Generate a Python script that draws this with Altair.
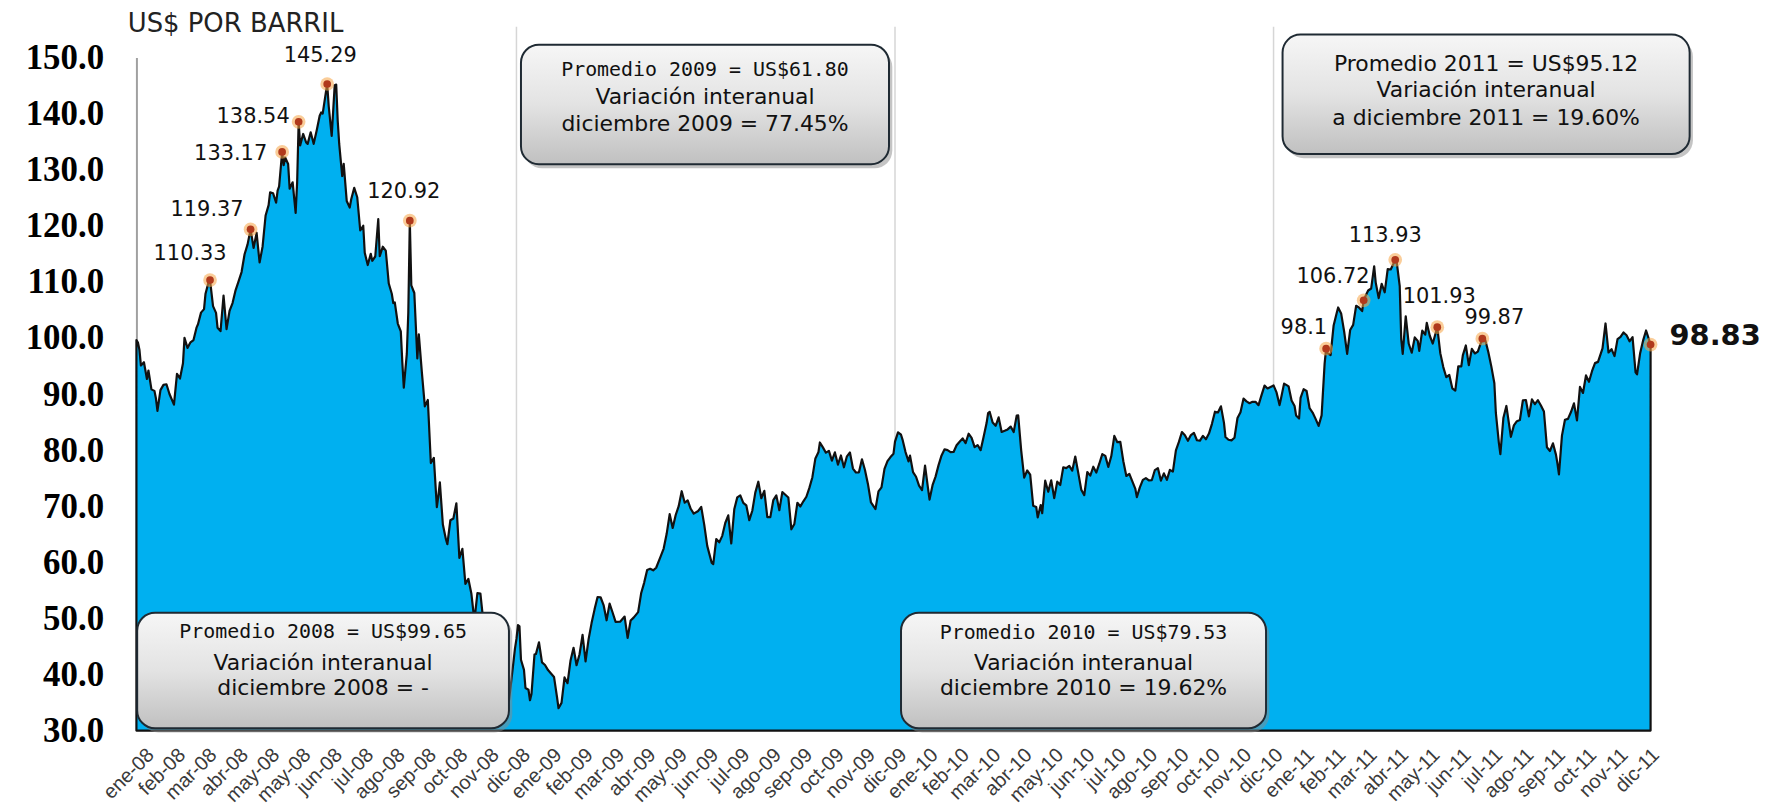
import altair as alt
import numpy as np
import pandas as pd

# ---------------- data (US$ por barril) ----------------
S2008 = [("01-02",99.62),("01-03",99.18),("01-04",97.91),("01-07",95.09),("01-09",95.67),("01-11",92.69),("01-14",94.20),("01-16",90.84),("01-18",90.57),("01-22",89.21),("01-23",86.99),("01-25",90.71),("01-29",91.64),("01-31",91.75),("02-04",90.02),("02-07",88.11),("02-11",93.59),("02-13",92.78),("02-15",95.50),("02-19",100.01),("02-21",98.23),("02-25",99.23),("02-27",99.64),("02-29",101.84),("03-03",102.45),("03-05",104.52),("03-07",105.15),("03-10",107.90),("03-12",109.92),("03-13",110.33),("03-17",105.68),("03-19",104.48),("03-20",101.84),("03-25",101.22),("03-27",107.58),("03-31",101.58),("04-02",104.83),("04-04",106.23),("04-08",108.50),("04-10",110.11),("04-14",111.76),("04-16",114.93),("04-18",116.69),("04-22",119.37),("04-24",116.06),("04-28",118.75),("04-30",113.46),("05-02",116.32),("05-06",121.84),("05-08",123.69),("05-09",125.96),("05-13",125.80),("05-15",124.12),("05-16",126.29),("05-19",127.05),("05-21",133.17),("05-22",130.81),("05-23",132.19),("05-28",131.03),("05-29",126.62),("06-02",127.76),("06-04",122.30),("06-05",127.79),("06-06",138.54),("06-09",134.35),("06-11",136.38),("06-13",134.86),("06-16",134.61),("06-18",136.68),("06-20",134.62),("06-24",137.00),("06-26",139.64),("06-27",140.21),("06-30",140.00),("07-02",143.57),("07-03",145.29),("07-07",141.37),("07-09",136.05),("07-11",145.08),("07-14",145.18),("07-15",138.74),("07-16",134.60),("07-18",128.88),("07-21",131.04),("07-23",124.44),("07-25",123.26),("07-28",124.73),("07-30",126.77),("08-01",125.10),("08-05",119.17),("08-07",120.02),("08-08",115.20),("08-12",113.01),("08-14",115.01),("08-15",113.77),("08-19",114.53),("08-21",121.18),("08-22",114.59),("08-26",116.27),("08-28",115.59),("09-02",109.71),("09-04",107.89),("09-05",106.23),("09-08",106.34),("09-10",102.58),("09-12",101.18),("09-15",95.71),("09-16",91.15),("09-18",97.16),("09-19",104.55),("09-22",120.92),("09-23",109.37),("09-25",108.02),("09-29",96.37),("09-30",100.64),("10-02",93.97),("10-06",87.81),("10-08",88.95),("10-10",77.70),("10-14",78.63),("10-16",69.85),("10-17",71.85),("10-20",74.25),("10-22",66.75),("10-24",64.15),("10-27",63.22),("10-29",67.50),("10-31",67.81),("11-04",70.53),("11-06",60.77),("11-10",62.41),("11-12",56.16),("11-14",57.04),("11-18",54.39),("11-20",49.62),("11-24",54.50),("11-26",54.44),("12-01",49.28),("12-03",46.79),("12-05",40.81),("12-08",43.71),("12-10",43.52),("12-12",46.28),("12-15",44.51),("12-17",40.06),("12-19",33.87),("12-22",39.91),("12-24",35.35),("12-29",39.89),("12-31",44.60)]
S2009 = [("01-02",46.34),("01-05",48.81),("01-06",48.58),("01-07",42.63),("01-09",40.83),("01-12",37.59),("01-14",37.28),("01-15",35.40),("01-16",36.51),("01-21",43.55),("01-22",43.67),("01-26",45.73),("01-28",42.16),("01-30",41.68),("02-03",40.78),("02-05",40.17),("02-09",39.56),("02-11",35.94),("02-12",33.98),("02-17",34.93),("02-19",39.48),("02-23",38.44),("02-25",42.50),("02-27",44.76),("03-03",41.65),("03-05",43.61),("03-09",47.07),("03-11",42.33),("03-13",46.25),("03-17",49.16),("03-19",51.61),("03-23",53.80),("03-25",53.77),("03-27",52.38),("03-31",49.66),("04-02",52.64),("04-06",51.05),("04-08",49.38),("04-14",49.41),("04-17",50.33),("04-21",46.51),("04-23",49.62),("04-27",50.14),("04-30",51.12),("05-04",54.47),("05-06",56.34),("05-08",58.63),("05-12",58.85),("05-14",58.57),("05-18",59.03),("05-21",61.05),("05-26",62.45),("05-28",65.08),("06-01",68.58),("06-03",66.12),("06-05",68.44),("06-09",70.01),("06-11",72.68),("06-15",70.62),("06-17",71.03),("06-19",69.55),("06-23",68.67),("06-26",69.16),("06-30",69.89),("07-02",66.73),("07-07",62.93),("07-10",59.89),("07-13",59.69),("07-15",64.14),("07-17",63.56),("07-21",64.72),("07-23",67.01),("07-27",68.38),("07-29",63.35),("07-31",69.45),("08-04",71.58),("08-06",71.94),("08-10",70.60),("08-12",70.16),("08-14",67.51),("08-18",69.19),("08-20",72.42),("08-24",74.37),("08-26",71.43),("08-28",72.74),("09-01",68.05),("09-03",68.05),("09-08",71.10),("09-10",71.94),("09-14",69.29),("09-16",72.51),("09-18",72.04),("09-22",71.55),("09-24",65.89),("09-28",66.84),("09-30",70.61),("10-02",69.95),("10-06",70.88),("10-08",71.69),("10-12",73.27),("10-14",75.18),("10-16",78.53),("10-20",79.61),("10-21",81.37),("10-23",80.50),("10-27",79.55),("10-29",79.87),("11-02",78.13),("11-04",79.60),("11-06",77.43),("11-10",79.05),("11-12",76.94),("11-16",78.90),("11-18",79.58),("11-20",76.72),("11-24",76.02),("11-27",76.05),("12-01",78.37),("12-03",76.46),("12-07",73.93),("12-09",70.67),("12-11",69.87),("12-14",69.51),("12-16",72.66),("12-18",73.36),("12-22",76.67),("12-24",78.05),("12-29",78.77),("12-31",79.36)]
S2010 = [("01-04",81.51),("01-06",83.18),("01-08",82.75),("01-11",81.89),("01-13",79.65),("01-15",78.00),("01-19",79.02),("01-21",76.08),("01-25",75.26),("01-27",73.67),("01-29",72.89),("02-02",77.23),("02-04",73.14),("02-05",71.19),("02-09",73.75),("02-11",75.28),("02-16",77.33),("02-18",79.06),("02-22",80.16),("02-24",80.00),("02-26",79.66),("03-02",79.68),("03-04",80.87),("03-08",81.50),("03-10",82.09),("03-12",81.24),("03-16",82.93),("03-18",82.20),("03-22",80.53),("03-24",80.91),("03-26",80.00),("03-30",82.37),("04-01",84.87),("04-05",86.62),("04-06",86.84),("04-08",84.92),("04-12",84.34),("04-14",85.84),("04-16",83.24),("04-20",83.45),("04-22",83.70),("04-26",84.20),("04-28",83.22),("04-30",86.15),("05-03",86.19),("05-05",79.97),("05-07",75.11),("05-11",76.37),("05-13",75.65),("05-17",70.08),("05-19",69.87),("05-20",68.01),("05-24",70.21),("05-25",68.75),("05-27",74.55),("06-01",72.58),("06-03",74.61),("06-07",71.44),("06-09",74.38),("06-11",73.78),("06-15",76.94),("06-17",76.79),("06-21",77.18),("06-23",76.35),("06-25",78.86),("06-29",75.94),("07-01",72.95),("07-06",71.98),("07-08",76.09),("07-12",75.45),("07-14",77.04),("07-16",76.01),("07-20",77.58),("07-22",79.30),("07-26",78.98),("07-28",77.00),("07-30",78.95),("08-03",82.55),("08-05",81.42),("08-09",81.48),("08-11",78.02),("08-13",75.39),("08-17",75.77),("08-19",74.43),("08-23",73.10),("08-24",71.63),("08-26",73.36),("08-30",74.70),("09-01",75.02),("09-03",74.60),("09-08",74.67),("09-10",76.45),("09-14",76.80),("09-16",74.57),("09-20",75.86),("09-22",74.71),("09-24",76.49),("09-28",76.18),("09-30",79.97),("10-04",81.47),("10-06",83.23),("10-08",82.66),("10-12",81.67),("10-14",82.69),("10-18",83.08),("10-20",81.77),("10-22",81.69),("10-26",82.55),("10-28",81.94),("11-01",82.95),("11-03",84.69),("11-05",86.85),("11-09",86.72),("11-11",87.81),("11-15",84.86),("11-16",82.34),("11-18",81.85),("11-22",81.74),("11-24",82.21),("11-29",85.73),("12-01",86.75),("12-03",89.19),("12-07",88.69),("12-09",88.37),("12-13",88.61),("12-15",88.62),("12-17",88.02),("12-21",89.82),("12-23",91.51),("12-28",91.00),("12-31",91.38)]
S2011 = [("01-03",91.55),("01-05",90.30),("01-07",88.03),("01-10",89.25),("01-12",91.86),("01-14",91.54),("01-18",91.38),("01-20",88.86),("01-24",87.87),("01-25",86.19),("01-27",85.64),("01-28",89.34),("02-01",90.86),("02-03",90.54),("02-07",87.48),("02-09",86.71),("02-11",85.58),("02-15",84.32),("02-17",86.20),("02-22",95.42),("02-23",98.10),("02-24",97.28),("02-28",96.97),("03-02",102.23),("03-04",104.42),("03-07",105.44),("03-09",104.38),("03-11",101.16),("03-15",97.18),("03-17",101.42),("03-21",102.33),("03-23",105.75),("03-25",105.40),("03-29",104.79),("03-30",106.72),("04-01",107.94),("04-04",108.47),("04-06",108.83),("04-08",112.79),("04-11",109.92),("04-13",107.11),("04-15",109.66),("04-19",108.15),("04-21",112.29),("04-26",112.21),("04-29",113.93),("05-02",113.52),("05-04",109.24),("05-05",99.80),("05-06",97.18),("05-10",103.88),("05-12",98.97),("05-16",97.37),("05-18",100.10),("05-20",99.49),("05-23",97.70),("05-25",101.32),("05-27",100.59),("05-31",102.70),("06-02",100.40),("06-06",99.01),("06-09",101.93),("06-13",97.30),("06-15",94.81),("06-17",93.01),("06-21",93.40),("06-23",91.02),("06-27",90.61),("06-29",94.96),("07-01",94.94),("07-05",96.89),("07-07",98.67),("07-11",95.15),("07-13",98.05),("07-15",97.24),("07-19",97.58),("07-22",99.87),("07-26",99.59),("07-28",97.44),("08-01",94.89),("08-03",91.93),("08-04",86.63),("08-08",81.31),("08-09",79.30),("08-11",85.72),("08-15",87.88),("08-18",82.38),("08-22",84.42),("08-24",85.16),("08-26",85.37),("08-30",88.90),("09-01",88.93),("09-06",86.02),("09-08",89.05),("09-12",88.19),("09-14",88.91),("09-16",87.96),("09-20",86.89),("09-22",80.51),("09-26",79.85),("09-28",81.21),("09-30",79.20),("10-03",77.61),("10-04",75.67),("10-06",82.59),("10-10",85.41),("10-12",85.57),("10-14",86.80),("10-18",88.34),("10-20",85.30),("10-24",91.27),("10-26",90.20),("10-28",93.32),("11-01",92.19),("11-03",94.07),("11-07",95.52),("11-09",95.74),("11-14",98.14),("11-16",102.59),("11-18",97.41),("11-22",98.01),("11-25",96.77),("11-29",99.79),("12-01",100.20),("12-05",100.99),("12-07",100.49),("12-09",99.41),("12-13",100.14),("12-15",93.87),("12-16",93.53),("12-20",97.22),("12-22",99.53),("12-27",101.34),("12-29",99.65),("12-30",98.83)]

# NYMEX holidays (x axis counts trading days)
HOLIDAYS = ["2008-01-01","2008-01-21","2008-02-18","2008-03-21","2008-05-26","2008-07-04","2008-09-01","2008-11-27","2008-12-25",
            "2009-01-01","2009-01-19","2009-02-16","2009-04-10","2009-05-25","2009-07-03","2009-09-07","2009-11-26","2009-12-25",
            "2010-01-01","2010-01-18","2010-02-15","2010-04-02","2010-05-31","2010-07-05","2010-09-06","2010-11-25","2010-12-24",
            "2011-01-17","2011-02-21","2011-04-22","2011-05-30","2011-07-04","2011-09-05","2011-11-24","2011-12-26"]

X_LABELS = ["ene-08","feb-08","mar-08","abr-08","may-08","may-08","jun-08","jul-08","ago-08","sep-08","oct-08","nov-08","dic-08",
            "ene-09","feb-09","mar-09","abr-09","may-09","jun-09","jul-09","ago-09","sep-09","oct-09","nov-09","dic-09",
            "ene-10","feb-10","mar-10","abr-10","may-10","jun-10","jul-10","ago-10","sep-10","oct-10","nov-10","dic-10",
            "ene-11","feb-11","mar-11","abr-11","may-11","jun-11","jul-11","ago-11","sep-11","oct-11","nov-11","dic-11"]
Y_TICKS = [30, 40, 50, 60, 70, 80, 90, 100, 110, 120, 130, 140, 150]
Y_TITLE = "US$ POR BARRIL"
YEAR_STARTS = ["2009-01-01", "2010-01-01", "2011-01-01"]

ANN_DATES = ["2008-03-13","2008-04-22","2008-05-21","2008-06-06","2008-07-03","2008-09-22",
             "2011-02-23","2011-03-30","2011-04-29","2011-06-09","2011-07-22","2011-12-30"]
ANN_VALUES = [110.33, 119.37, 133.17, 138.54, 145.29, 120.92, 98.10, 106.72, 113.93, 101.93, 99.87, 98.83]
ANN_TEXT = ["110.33", "119.37", "133.17", "138.54", "145.29", "120.92", "98.1", "106.72", "113.93", "101.93", "99.87", "98.83"]

BOX_YEARS = ["2008", "2009", "2010", "2011"]
BOX_LINE1 = ["Promedio 2008 = US$99.65", "Promedio 2009 = US$61.80", "Promedio 2010 = US$79.53", "Promedio 2011 = US$95.12"]
BOX_LINE2 = ["Variación interanual"] * 4
BOX_LINE3 = ["diciembre 2008 = -", "diciembre 2009 = 77.45%", "diciembre 2010 = 19.62%", "a diciembre 2011 = 19.60%"]

# ---------------- layout (annotation placement, in axis units) ----------------
BOX_X1 = [0.5, 256, 509, 763]
BOX_X2 = [248, 501, 752, 1034]
BOX_YTOP = [51.0, 152.3, 51.0, 154.1]
BOX_YBOT = [30.4, 131.0, 30.4, 132.8]
BOX_L1_Y = [47.6, 147.7, 47.4, 148.8]
BOX_L2_Y = [42.0, 142.9, 42.1, 144.3]
BOX_L3_Y = [37.6, 138.1, 37.6, 139.3]
ANN_DX = [-20, -7, -15, -9, -7, -6, 1, 6, -10, 2, 12, 19]
ANN_DY = [-26, -19, 2, -5, -28, -29, -21, -23, -24, -30, -21, -9]
ANN_ALIGN = ["center", "right", "right", "right", "center", "center", "right", "right", "center", "center", "center", "left"]
TITLE_POS = (66, 155.9)

# ---------------- build tables ----------------
def trade_idx(dates):
    d = pd.to_datetime(pd.Series(dates)).values.astype("datetime64[D]")
    return np.busday_count(np.datetime64("2008-01-02"), d, holidays=HOLIDAYS)

rows = []
for yr, s in (("2008", S2008), ("2009", S2009), ("2010", S2010), ("2011", S2011)):
    for md, v in s:
        rows.append((f"{yr}-{md}", v))
price_df = pd.DataFrame(rows, columns=["date", "price"])
price_df["idx"] = trade_idx(price_df["date"])
LAST_IDX = int(price_df["idx"].max())

years_df = pd.DataFrame({"idx": trade_idx(YEAR_STARTS), "top": 155.5, "bot": 30.0})

ann_df = pd.DataFrame({"date": ANN_DATES, "price": ANN_VALUES, "label": ANN_TEXT})
ann_df["idx"] = trade_idx(ann_df["date"])

box_df = pd.DataFrame({"year": BOX_YEARS, "l1": BOX_LINE1, "l2": BOX_LINE2, "l3": BOX_LINE3,
                       "bx1": BOX_X1, "bx2": BOX_X2, "byt": BOX_YTOP, "byb": BOX_YBOT,
                       "ty1": BOX_L1_Y, "ty2": BOX_L2_Y, "ty3": BOX_L3_Y})
box_df["xc"] = (box_df["bx1"] + box_df["bx2"]) / 2
box_df["sx1"] = box_df["bx1"] + 2.2
box_df["sx2"] = box_df["bx2"] + 2.2
box_df["syt"] = box_df["byt"] - 0.75
box_df["syb"] = box_df["byb"] - 0.75

title_df = pd.DataFrame({"t": [Y_TITLE], "x": [TITLE_POS[0]], "y": [TITLE_POS[1]]})

# ---------------- scales / axes ----------------
XSCALE = alt.Scale(domain=[0, LAST_IDX], nice=False, zero=False)
YSCALE = alt.Scale(domain=[30, 150], nice=False, zero=False)
YAXIS = alt.Axis(values=Y_TICKS, format=".1f", labelFont="Liberation Serif", labelFontWeight="bold",
                 labelFontSize=35, labelColor="#000000", labelPadding=33, ticks=False, tickSize=0,
                 grid=False, domainColor="#a0a0a0", domainWidth=2, labelOverlap=False, labelFlush=False)

def xq(f):
    return alt.X(f"{f}:Q", scale=XSCALE, axis=None, title=None)

def yq(f):
    return alt.Y(f"{f}:Q", scale=YSCALE, axis=YAXIS, title=None)

# ---------------- layers ----------------
rules = alt.Chart(years_df).mark_rule(color="#d6d6d6", strokeWidth=1.5).encode(
    x=xq("idx"), y=yq("top"), y2=alt.Y2("bot"))

area = alt.Chart(price_df).mark_area(fill="#00b0f0", stroke="#111111", strokeWidth=2.2,
                                     strokeJoin="round").encode(
    x=xq("idx"), y=yq("price"), y2=alt.datum(30))

GRAD = alt.Gradient(gradient="linear",
                    stops=[alt.GradientStop(color="#f6f6f6", offset=0),
                           alt.GradientStop(color="#e3e3e3", offset=0.5),
                           alt.GradientStop(color="#c0c0c0", offset=1)],
                    x1=0, x2=0, y1=0, y2=1)

shadow = alt.Chart(box_df).mark_rect(cornerRadius=18, fill="#8a8a8a", opacity=0.5).encode(
    x=xq("sx1"), x2=alt.X2("sx2"), y=yq("syt"), y2=alt.Y2("syb"))
boxes = alt.Chart(box_df).mark_rect(cornerRadius=18, fill=GRAD, stroke="#1f2a33", strokeWidth=2).encode(
    x=xq("bx1"), x2=alt.X2("bx2"), y=yq("byt"), y2=alt.Y2("byb"))

t1_mono = alt.Chart(box_df).transform_filter("datum.year != '2011'").mark_text(
    font="DejaVu Sans Mono", fontSize=20, color="#111111").encode(x=xq("xc"), y=yq("ty1"), text="l1:N")
t1_sans = alt.Chart(box_df).transform_filter("datum.year == '2011'").mark_text(
    font="DejaVu Sans", fontSize=22, color="#111111").encode(x=xq("xc"), y=yq("ty1"), text="l1:N")
t2 = alt.Chart(box_df).mark_text(font="DejaVu Sans", fontSize=22, color="#111111").encode(
    x=xq("xc"), y=yq("ty2"), text="l2:N")
t3 = alt.Chart(box_df).mark_text(font="DejaVu Sans", fontSize=22, color="#111111").encode(
    x=xq("xc"), y=yq("ty3"), text="l3:N")

halo = alt.Chart(ann_df).mark_circle(size=190, color="#f5a445", opacity=0.55).encode(x=xq("idx"), y=yq("price"))
core = alt.Chart(ann_df).mark_circle(size=60, color="#b0391c", opacity=1).encode(x=xq("idx"), y=yq("price"))

ann_layers = []
for i in range(len(ANN_TEXT)):
    big = i == len(ANN_TEXT) - 1
    ann_layers.append(
        alt.Chart(ann_df.iloc[[i]]).mark_text(
            dx=ANN_DX[i], dy=ANN_DY[i], align=ANN_ALIGN[i], baseline="middle",
            font="DejaVu Sans", fontSize=29 if big else 21,
            fontWeight="bold" if big else "normal", color="#111111"
        ).encode(x=xq("idx"), y=yq("price"), text="label:N"))

title = alt.Chart(title_df).mark_text(font="DejaVu Sans", fontSize=26, color="#222222").encode(
    x=xq("x"), y=yq("y"), text="t:N")

inner = alt.layer(rules, area, shadow, boxes, t1_mono, t1_sans, t2, t3, halo, core, *ann_layers, title)

# category-style month labels along the bottom
lab_df = pd.DataFrame({"i": list(range(len(X_LABELS)))})
label_expr = "[" + ",".join(f"'{s}'" for s in X_LABELS) + "][datum.value]"
labels_layer = alt.Chart(lab_df).mark_point(opacity=0).encode(
    x=alt.X("i:Q", scale=alt.Scale(domain=[-0.222, 48.064], nice=False, zero=False),
            axis=alt.Axis(orient="bottom", values=list(range(len(X_LABELS))), labelExpr=label_expr,
                          labelAngle=-45, labelFont="Liberation Sans", labelFontSize=20,
                          labelColor="#3a3a3a", labelPadding=14, ticks=False, tickSize=0,
                          domain=False, grid=False, labelOverlap=False, labelFlush=False,
                          labelBound=False),
            title=None))

chart = alt.layer(inner, labels_layer).resolve_scale(x="independent").properties(
    width=1521, height=676,
    padding={"left": 129, "top": 48, "right": 130, "bottom": 79},
    autosize=alt.AutoSizeParams(type="none"),
    background="white",
).configure_view(stroke=None)

chart.save("out.html", embed_options={"renderer": "svg", "actions": False})
